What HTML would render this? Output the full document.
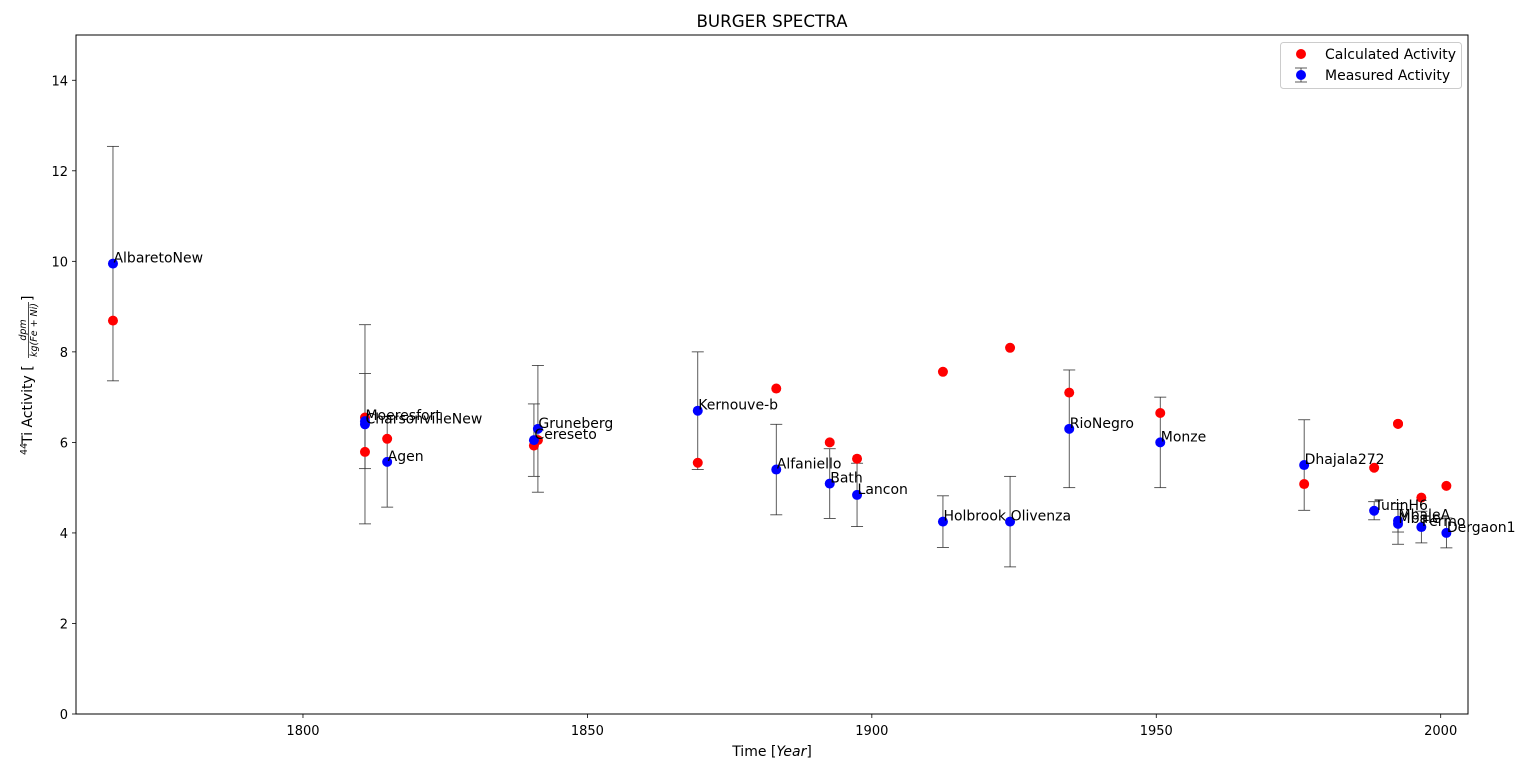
<!DOCTYPE html>
<html><head><meta charset="utf-8"><style>
body{margin:0;background:#fff;}
svg{display:block;font-family:"DejaVu Sans","Liberation Sans",sans-serif;}
</style></head><body>
<svg id="chart" width="1533" height="775">
<rect x="0" y="0" width="1533" height="775" fill="#fff"/>
<g id="plot"></g>
</svg>
<script>
const names=["AlbaretoNew","Moeresfort","CharsonvilleNew","Agen","Gruneberg","Cereseto","Kernouve-b","Alfaniello","Bath","Lancon","Holbrook","Olivenza","RioNegro","Monze","Dhajala272","TurinH6","MbaleA","Mbale","Fermo","Dergaon1"];
const years=[1766.6,1810.9,1810.9,1814.8,1841.3,1840.6,1869.4,1883.2,1892.6,1897.4,1912.5,1924.3,1934.7,1950.7,1976.0,1988.3,1992.5,1992.5,1996.6,2001.0];
const measured=[9.95,6.47,6.40,5.57,6.30,6.05,6.70,5.40,5.09,4.84,4.25,4.25,6.30,6.00,5.50,4.49,4.27,4.20,4.13,4.00];
const measuredErr=[2.59,1.05,2.2,1.0,1.4,0.8,1.3,1.0,0.77,0.7,0.57,1.0,1.3,1.0,1.0,0.2,0.25,0.45,0.35,0.33];
const calculated=[8.69,6.55,5.79,6.08,6.05,5.93,5.55,7.19,6.00,5.64,7.56,8.09,7.10,6.65,5.08,5.44,6.41,6.41,4.78,5.04];
const xTicks=[1800,1850,1900,1950,2000];
const yTicks=[0,2,4,6,8,10,12,14];

const L=76,R=1468,T=35,B=714;
const xMin=1760.1,xMax=2004.8,yMin=0,yMax=15.0;
const X=v=>L+(v-xMin)/(xMax-xMin)*(R-L);
const Y=v=>B-(v-yMin)/(yMax-yMin)*(B-T);
const NS="http://www.w3.org/2000/svg";
const g=document.getElementById('plot');
function el(tag,attrs,parent){const e=document.createElementNS(NS,tag);for(const k in attrs)e.setAttribute(k,attrs[k]);(parent||g).appendChild(e);return e;}

let t=el('text',{x:(L+R)/2,y:27,'text-anchor':'middle','font-size':16.7});t.textContent='BURGER SPECTRA';



xTicks.forEach(v=>{
  const x=X(v);
  const ln=el('line',{x1:x,x2:x,y1:B,y2:B+4,stroke:'#000','stroke-width':0.8});
  
  
  const tx=el('text',{x:x,y:B+21,'text-anchor':'middle','font-size':13});tx.textContent=v;
  
  
});
yTicks.forEach(v=>{
  const y=Y(v);
  const ln=el('line',{x1:L-4,x2:L,y1:y,y2:y,stroke:'#000','stroke-width':0.8});
  
  
  const tx=el('text',{x:L-8,y:y+5,'text-anchor':'end','font-size':13});tx.textContent=v;
  
  
});

let xt=el('text',{x:(L+R)/2,y:756,'text-anchor':'middle','font-size':14});
xt.innerHTML='Time [<tspan font-style="italic">Year</tspan>]';



const yg=el('g',{transform:'translate(32,375) rotate(-90)'});


let y1t=el('text',{x:-80,y:-5,'font-size':9.5},yg);y1t.textContent='44';
let y2t=el('text',{x:-69,y:0,'font-size':14},yg);y2t.textContent='Ti Activity [';
let y3t=el('text',{x:45,y:-6,'font-size':9.5,'font-style':'italic','text-anchor':'middle'},yg);y3t.textContent='dpm';
el('line',{x1:17,x2:73,y1:-3.5,y2:-3.5,stroke:'#000','stroke-width':0.7},yg);
let y4t=el('text',{x:45,y:5,'font-size':9.5,'font-style':'italic','text-anchor':'middle'},yg);y4t.textContent='kg(Fe + Ni)';
let y5t=el('text',{x:74,y:0,'font-size':14},yg);y5t.textContent=']';

names.forEach((n,i)=>{
  const x=X(years[i]),y1=Y(measured[i]+measuredErr[i]),y2=Y(measured[i]-measuredErr[i]);
  const eg=el('g',{stroke:'#333','stroke-width':0.8});
  
  
  el('line',{x1:x,x2:x,y1:y1,y2:y2},eg);
  el('line',{x1:x-6,x2:x+6,y1:y1,y2:y1},eg);
  el('line',{x1:x-6,x2:x+6,y1:y2,y2:y2},eg);
});
names.forEach((n,i)=>{
  const c=el('circle',{cx:X(years[i]),cy:Y(calculated[i]),r:5,fill:'#ff0000'});
  
  
});
names.forEach((n,i)=>{
  const c=el('circle',{cx:X(years[i]),cy:Y(measured[i]),r:5,fill:'#0000ff'});
  
  
});
names.forEach((n,i)=>{
  const tx=el('text',{x:X(years[i])+0.5,y:Y(measured[i])-1,'font-size':14});tx.textContent=n;
  
  
});

let fr=el('rect',{x:L,y:T,width:R-L,height:B-T,fill:'none',stroke:'#000','stroke-width':1});



const lg=el('g',{});


el('rect',{x:1280.5,y:42.5,width:181,height:46,rx:3,fill:'#fff',stroke:'#ccc'},lg);
const le1=el('g',{},lg);


el('circle',{cx:1301,cy:54,r:5,fill:'#ff0000'},le1);
let l1=el('text',{x:1325,y:59,'font-size':14},le1);l1.textContent='Calculated Activity';
const le2=el('g',{},lg);


el('line',{x1:1301,x2:1301,y1:68,y2:82,stroke:'#333','stroke-width':0.8},le2);
el('line',{x1:1295,x2:1307,y1:68,y2:68,stroke:'#333','stroke-width':0.8},le2);
el('line',{x1:1295,x2:1307,y1:82,y2:82,stroke:'#333','stroke-width':0.8},le2);
el('circle',{cx:1301,cy:75,r:5,fill:'#0000ff'},le2);
let l2=el('text',{x:1325,y:80,'font-size':14},le2);l2.textContent='Measured Activity';
</script>
</body></html>
